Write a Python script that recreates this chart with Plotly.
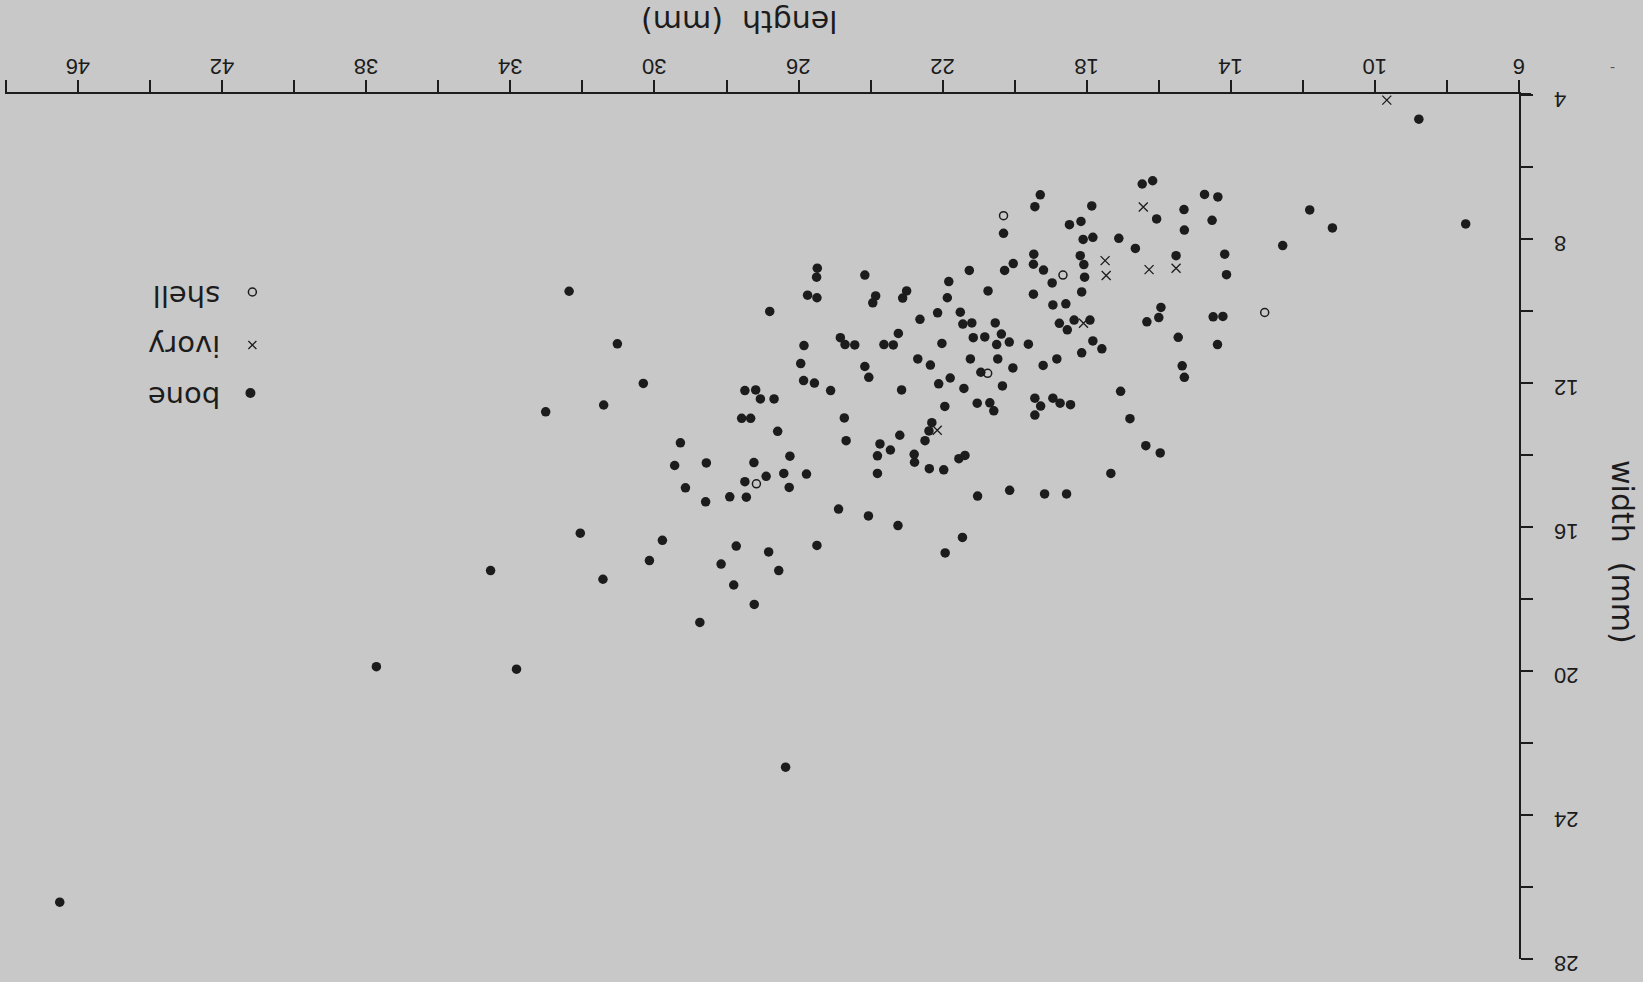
import plotly.graph_objects as go

# ---- data (length mm, width mm) ----
bone_length = [8.78, 7.48,
    16.46, 16.17, 14.73, 14.36, 15.30, 16.06, 14.52, 15.29, 11.81, 11.18, 12.56, 17.11, 16.65, 15.52, 14.17, 14.12,
    15.94, 16.00, 16.33, 14.49, 14.22, 15.46, 14.37, 17.58, 15.35, 15.29, 17.06,
    16.80, 16.36, 15.96, 17.33,
    19.29, 19.44, 17.86, 18.48, 18.16, 18.10, 17.83, 20.31, 19.47, 19.48, 19.20, 18.18, 18.08, 18.06, 18.14, 18.96,
    18.58, 18.94, 19.48, 20.04, 20.28, 21.26, 21.83, 21.87, 20.74, 21.51, 22.14, 22.63, 21.44, 21.19, 20.54, 20.37,
    20.83, 21.15, 20.50, 20.15, 19.62, 18.76, 18.54, 18.35, 17.91, 17.83, 18.14, 18.83, 19.21, 20.05, 20.47, 21.23,
    22.02, 22.69, 22.34, 21.79, 22.11, 21.41, 20.94, 20.34, 24.16, 23.86, 23.94, 23.00, 23.11, 24.84, 24.71, 24.44,
    23.63, 23.37, 23.23, 24.16, 24.05, 25.11, 23.14,
    32.37, 31.03, 30.31, 26.80, 25.75, 25.49, 25.48, 25.50, 25.85, 25.94, 25.86, 25.56, 27.49, 27.19,
    27.06, 26.68, 33.02, 31.41, 27.58, 27.33, 26.58, 29.28, 29.44, 28.56, 29.14, 28.58, 27.24, 26.24, 26.90, 26.41,
    25.78, 27.49, 26.26, 27.91, 27.45, 32.06, 29.78, 30.14, 31.43, 27.73, 26.83, 25.49, 28.15, 26.55, 27.80, 27.23,
    28.74,
    21.94, 21.04, 20.69, 20.58, 19.44, 19.28, 18.94, 18.74, 18.45, 19.44, 24.73, 24.68, 23.74, 23.45, 23.81, 23.19,
    22.49, 22.30, 22.38, 22.79, 22.78, 23.81, 22.37, 21.97, 21.55, 21.38, 21.03, 20.14, 19.17, 18.56, 24.89, 24.06,
    23.24, 21.45, 21.93,
    34.55, 37.72, 33.83, 26.36, 46.51]
bone_width = [4.67, 7.58,
    6.47, 6.38, 6.76, 6.83, 7.18, 7.44, 7.48, 7.75, 7.19, 7.69, 8.18, 7.98, 8.26, 8.46, 8.42, 8.99,
    9.90, 10.18, 10.30, 10.16, 10.15, 10.73, 10.93, 11.05, 11.52, 11.84, 12.23,
    12.99, 13.74, 13.94, 14.51,
    6.77, 7.10, 7.08, 7.60, 7.51, 8.01, 7.95, 7.84, 8.42, 8.70, 8.86, 8.46, 8.71, 9.06, 9.47, 9.22,
    9.80, 9.83, 9.53, 8.68, 8.87, 8.87, 9.18, 9.63, 9.44, 10.03, 10.05, 10.23, 10.36, 10.33, 10.33, 10.64,
    10.72, 10.74, 10.93, 10.86, 10.92, 10.34, 10.52, 10.25, 10.25, 10.83, 11.16, 11.33, 11.51, 11.58, 11.33, 11.33,
    10.90, 11.33, 11.50, 11.86, 12.02, 12.15, 11.70, 12.08, 9.00, 9.58, 9.77, 9.44, 9.64, 10.74, 10.93, 10.94,
    10.93, 10.94, 10.62, 11.54, 11.84, 12.21, 12.19,
    9.45, 10.91, 12.01, 10.01, 9.56, 9.63, 8.81, 9.06, 10.96, 11.46, 11.93, 12.00, 12.21, 12.19,
    12.44, 12.44, 12.80, 12.61, 12.98, 12.98, 13.34, 13.66, 14.29, 14.22, 14.91, 15.30, 14.21, 14.03, 14.59, 14.51,
    14.53, 14.74, 14.90, 15.16, 15.17, 16.17, 16.37, 16.93, 17.45, 16.53, 16.69, 16.51, 17.03, 17.21, 17.61, 18.15,
    18.65,
    12.65, 12.56, 12.55, 12.77, 12.42, 12.64, 12.42, 12.56, 12.60, 12.89, 12.97, 13.60, 13.69, 13.86, 14.02, 13.45,
    13.60, 13.10, 13.33, 13.98, 14.20, 14.51, 14.38, 14.41, 14.10, 14.01, 15.14, 14.98, 15.08, 15.08, 15.50, 15.69,
    15.96, 16.29, 16.72,
    17.21, 19.88, 19.95, 22.67, 26.42]

ivory_length = [9.67, 16.43, 17.49, 17.46, 16.27, 15.52, 18.09, 22.15]
ivory_width = [4.14, 7.11, 8.60, 9.01, 8.85, 8.81, 10.34, 13.31]

shell_length = [13.06, 20.31, 18.66, 20.75, 27.17]
shell_width = [10.04, 7.35, 9.00, 11.73, 14.80]

NB = "\u00a0"
x_tick_vals = list(range(6, 49, 2))
x_tick_text = [(NB if v < 10 else "") + str(v) if (v - 6) % 4 == 0 else "" for v in x_tick_vals]
y_tick_vals = list(range(4, 29, 2))
y_tick_text = [(NB * 2 if v < 10 else "") + str(v) if v % 4 == 0 else "" for v in y_tick_vals]

legend_labels = ["bone", "ivory", "shell"]

BG = "#c8c8c8"
INK = "#1c1c1c"

fig = go.Figure()
fig.add_trace(go.Scatter(x=bone_length, y=bone_width, mode="markers", name="bone",
                         marker=dict(symbol="circle", size=9.5, color=INK, line=dict(width=0))))
fig.add_trace(go.Scatter(x=ivory_length, y=ivory_width, mode="markers", name="ivory",
                         marker=dict(symbol="x-thin", size=9, color=INK, line=dict(width=1.3, color=INK))))
fig.add_trace(go.Scatter(x=shell_length, y=shell_width, mode="markers", name="shell",
                         marker=dict(symbol="circle-open", size=8, color=INK, line=dict(width=1.5, color=INK))))

axis_common = dict(showgrid=False, zeroline=False, showline=True, linecolor=INK, linewidth=2,
                   ticks="outside", ticklen=12, tickwidth=1.5, tickcolor=INK,
                   tickfont=dict(family="Liberation Sans, Arial, sans-serif", size=22, color=INK),
                   tickangle=180)

fig.update_layout(
    width=1643, height=982,
    paper_bgcolor=BG, plot_bgcolor=BG,
    showlegend=False,
    margin=dict(l=5, r=124, t=94, b=23, pad=0),
    xaxis=dict(range=[48.03, 6.0], side="top", tickvals=x_tick_vals, ticktext=x_tick_text,
               ticklabelstandoff=-10, ticklabelshift=-12, **axis_common),
    yaxis=dict(range=[28.0, 3.97], side="right", tickvals=y_tick_vals, ticktext=y_tick_text,
               ticklabelstandoff=41, ticklabelshift=-11, **axis_common),
)

# x axis line runs a little past the corner
fig.add_shape(type="line", xref="paper", yref="paper", xsizemode="pixel",
              xanchor=1, x0=0, x1=12, y0=1, y1=1, line=dict(width=2, color=INK))

title_font = dict(family="DejaVu Sans, sans-serif", size=30, color=INK)
fig.add_annotation(text="length  (mm)", xref="paper", yref="paper", x=0.485, y=1, yshift=72,
                   xanchor="center", yanchor="middle", textangle=180, showarrow=False, font=title_font)
fig.add_annotation(text="width  (mm)", xref="paper", yref="paper", x=1, xshift=104, y=0.4705,
                   xanchor="center", yanchor="middle", textangle=90, showarrow=False, font=title_font)
fig.add_annotation(text="-", xref="paper", yref="paper", x=1, xshift=98, y=1, yshift=37,
                   showarrow=False, font=dict(family="DejaVu Sans", size=14, color="#555"))

# custom (upside-down) legend
leg_font = dict(family="DejaVu Sans, sans-serif", size=29, color=INK)
leg_y = {"shell": 0.7665, "ivory": 0.7087, "bone": 0.6497}
for lab in legend_labels:
    fig.add_annotation(text=lab, xref="paper", yref="paper", x=0.1434, y=leg_y[lab],
                       xanchor="right", yanchor="middle", textangle=180, showarrow=False, font=leg_font)

mx = 0.1634
fig.add_shape(type="circle", xref="paper", yref="paper", xsizemode="pixel", ysizemode="pixel",
              xanchor=mx - 0.0013, yanchor=0.6543, x0=-5, x1=5, y0=-5, y1=5,
              fillcolor=INK, line=dict(width=0))
fig.add_shape(type="circle", xref="paper", yref="paper", xsizemode="pixel", ysizemode="pixel",
              xanchor=mx, yanchor=0.7711, x0=-4, x1=4, y0=-4, y1=4,
              fillcolor="rgba(0,0,0,0)", line=dict(width=1.5, color=INK))
for (a, b, c, d) in [(-4, 4, -4, 4), (-4, 4, 4, -4)]:
    fig.add_shape(type="line", xref="paper", yref="paper", xsizemode="pixel", ysizemode="pixel",
                  xanchor=mx, yanchor=0.7098, x0=a, x1=b, y0=c, y1=d, line=dict(width=1.3, color=INK))

fig.write_html("out.html", config={"displayModeBar": False},
               post_script="document.body.style.margin='0px';")
